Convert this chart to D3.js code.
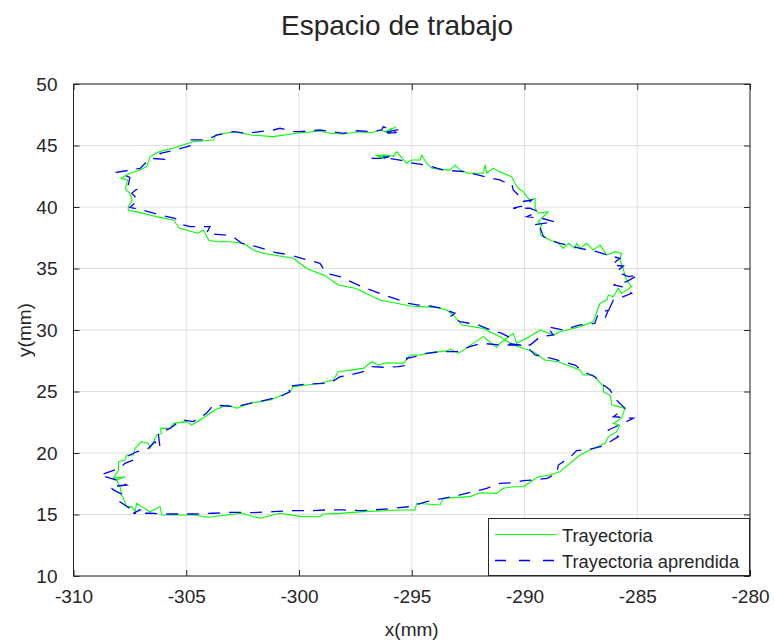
<!DOCTYPE html>
<html><head><meta charset="utf-8">
<script src="https://cdn.jsdelivr.net/npm/d3@7"></script>
<style>body{margin:0;background:#fff}svg{display:block}text{font-family:"Liberation Sans",Arial,Helvetica,sans-serif;fill:#262626}</style>
</head><body><svg id="c" width="774" height="644"></svg>
<script>
const xTicks = [-310,-305,-300,-295,-290,-285,-280];
const yTicks = [10,15,20,25,30,35,40,45,50];
const seriesNames = ["Trayectoria","Trayectoria aprendida"];
const trayectoria = [[-295.7,46.5],[-296.2,46.1],[-295.89,46.4],[-295.96,45.99],[-296.41,46.26],[-296.78,46.04],[-297.37,46.12],[-298.04,45.93],[-298.63,45.99],[-299.07,46.18],[-300.1,45.99],[-301.14,45.72],[-302.1,45.85],[-302.9,46.12],[-303.7,45.85],[-303.8,45.45],[-304.7,45.3],[-305.6,44.77],[-306.2,44.5],[-306.6,44.1],[-306.75,43.3],[-307.05,43.0],[-307.5,42.74],[-307.9,42.33],[-307.6,42.2],[-307.7,41.5],[-307.5,41.1],[-307.4,40.57],[-307.57,40.0],[-307.57,39.76],[-307.05,39.54],[-306.3,39.2],[-305.57,38.94],[-305.3,38.27],[-304.5,37.86],[-304.24,38.13],[-304.0,37.3],[-303.65,37.18],[-303.06,37.18],[-302.47,37.05],[-302.03,36.5],[-301.6,36.24],[-300.25,35.83],[-299.66,35.0],[-298.85,34.42],[-298.26,33.66],[-297.5,33.39],[-296.41,32.44],[-295.07,31.95],[-293.9,31.84],[-293.45,31.63],[-293.16,31.22],[-292.78,30.41],[-291.83,30.13],[-291.09,29.46],[-290.5,28.78],[-289.6,28.24],[-289.09,27.56],[-288.5,27.42],[-287.54,26.75],[-287.4,26.34],[-286.95,26.34],[-286.5,25.4],[-286.5,24.98],[-286.2,24.7],[-286.13,23.9],[-285.54,23.63],[-285.7,22.82],[-286.06,22.41],[-285.77,22.28],[-285.92,21.73],[-286.28,21.33],[-286.43,20.79],[-287.1,20.24],[-287.54,19.84],[-288.43,18.48],[-288.87,18.21],[-289.39,18.07],[-290.05,17.26],[-290.5,17.26],[-290.94,17.13],[-291.23,16.72],[-291.97,16.77],[-292.42,16.45],[-293.6,16.31],[-293.75,15.77],[-294.78,15.91],[-294.86,15.37],[-295.52,15.37],[-296.41,15.28],[-297.15,15.23],[-298.18,15.09],[-298.92,15.04],[-299.07,14.82],[-299.96,14.85],[-300.84,15.1],[-301.73,14.69],[-302.54,15.1],[-304.02,14.77],[-304.69,14.96],[-306.09,14.96],[-306.16,15.64],[-306.6,15.23],[-306.98,15.64],[-307.2,15.91],[-307.27,15.23],[-307.42,15.64],[-307.64,15.64],[-307.86,16.59],[-307.94,17.26],[-308.08,17.8],[-307.72,18.07],[-308.23,17.94],[-308.0,18.62],[-308.0,19.29],[-307.72,19.43],[-307.64,19.84],[-307.35,19.84],[-307.27,20.38],[-306.98,20.92],[-306.68,20.79],[-306.6,20.38],[-306.31,21.46],[-306.09,21.6],[-306.16,22.0],[-305.72,22.0],[-305.57,22.41],[-304.98,22.55],[-304.76,22.28],[-304.39,22.68],[-303.73,23.5],[-303.2,23.9],[-302.76,23.63],[-302.17,24.04],[-301.29,24.31],[-300.4,24.98],[-300.25,25.4],[-299.66,25.53],[-299.07,25.67],[-298.48,25.93],[-298.26,26.61],[-297.15,26.88],[-296.78,27.42],[-296.48,27.15],[-296.11,27.34],[-295.37,27.29],[-295.08,27.97],[-294.63,27.97],[-294.34,28.1],[-293.38,28.32],[-293.3,28.46],[-292.93,28.1],[-291.83,29.46],[-291.38,28.78],[-291.23,28.59],[-291.09,28.92],[-290.5,29.73],[-290.35,28.92],[-289.9,29.33],[-289.3,30.0],[-288.7,29.6],[-288.43,29.86],[-287.54,30.27],[-286.95,30.68],[-286.65,32.17],[-286.35,32.44],[-286.28,32.85],[-286.06,32.71],[-285.84,33.39],[-285.69,32.98],[-285.25,33.52],[-285.47,34.07],[-285.54,34.34],[-285.62,35.0],[-285.77,35.7],[-285.7,36.24],[-286.0,36.37],[-286.35,36.1],[-286.65,36.9],[-286.95,36.5],[-287.24,37.05],[-287.54,36.64],[-287.69,37.05],[-287.76,36.64],[-288.05,37.05],[-288.28,36.64],[-288.5,37.05],[-288.87,37.32],[-289.3,37.72],[-289.3,38.27],[-289.24,38.54],[-289.39,38.8],[-289.09,39.35],[-288.94,39.62],[-289.39,39.49],[-289.53,39.9],[-289.53,40.7],[-289.76,40.57],[-289.9,40.84],[-290.05,41.24],[-290.28,41.52],[-290.42,41.93],[-290.57,42.46],[-291.09,42.87],[-291.38,43.14],[-291.68,42.74],[-291.75,43.41],[-291.83,42.74],[-292.49,42.74],[-292.86,43.0],[-293.08,43.41],[-293.3,43.0],[-294.1,43.14],[-294.34,43.55],[-294.56,44.23],[-294.63,43.82],[-295.0,43.82],[-295.23,43.55],[-295.67,44.5],[-295.82,44.1],[-296.11,44.23],[-296.33,44.23],[-296.41,43.96],[-296.0,44.1],[-296.6,44.2],[-296.2,43.9]];
const aprendida = [[-295.6,46.3],[-296.3,46.0],[-295.67,46.04],[-296.26,46.53],[-296.33,46.26],[-296.78,46.12],[-297.44,46.2],[-298.04,45.99],[-299.07,46.26],[-299.96,46.12],[-300.25,46.12],[-300.84,46.4],[-301.14,46.26],[-301.73,46.12],[-302.32,45.99],[-302.91,46.12],[-303.65,45.85],[-304.1,45.45],[-304.83,45.45],[-304.69,45.04],[-305.5,44.63],[-306.16,44.36],[-305.87,43.87],[-306.6,43.96],[-307.05,43.14],[-308.08,42.82],[-307.5,42.41],[-307.57,41.79],[-307.2,41.44],[-307.42,41.11],[-307.13,40.57],[-307.5,39.97],[-306.98,39.76],[-306.16,39.35],[-305.5,39.08],[-305.13,38.54],[-304.83,38.4],[-303.95,38.4],[-304.1,37.86],[-302.98,37.67],[-302.54,37.05],[-301.88,36.77],[-300.99,36.28],[-300.4,36.1],[-299.88,35.83],[-299.07,35.42],[-298.78,34.6],[-298.18,34.33],[-297.29,33.58],[-296.3,32.9],[-295.15,32.17],[-294.7,32.03],[-294.19,31.95],[-293.67,31.76],[-293.08,31.36],[-293.3,31.08],[-292.86,30.68],[-292.42,30.54],[-292.05,30.41],[-291.68,30.13],[-291.01,29.73],[-290.72,29.46],[-290.79,28.92],[-290.2,28.78],[-289.83,28.51],[-289.53,27.97],[-288.8,27.7],[-287.76,27.15],[-287.4,26.61],[-286.88,26.2],[-286.5,25.53],[-286.2,25.12],[-286.0,24.44],[-285.54,23.63],[-286.06,22.95],[-285.17,22.82],[-285.69,22.36],[-286.28,21.87],[-285.84,21.33],[-286.5,20.57],[-287.1,20.3],[-287.69,20.19],[-287.98,19.65],[-288.5,19.02],[-288.57,18.35],[-289.0,17.94],[-289.61,17.8],[-290.05,17.75],[-290.5,17.59],[-291.09,17.53],[-291.68,17.13],[-291.97,16.99],[-292.86,16.59],[-293.6,16.31],[-294.34,16.04],[-295.08,15.64],[-295.82,15.5],[-296.7,15.37],[-297.29,15.31],[-298.04,15.37],[-298.78,15.37],[-299.51,15.31],[-300.25,15.31],[-301.14,15.23],[-302.03,15.15],[-302.91,15.18],[-303.8,15.1],[-304.69,15.04],[-305.72,15.04],[-306.6,15.1],[-307.35,15.1],[-307.05,15.37],[-307.5,15.5],[-307.94,16.04],[-307.79,16.59],[-308.23,17.0],[-308.38,17.26],[-307.64,17.4],[-308.08,17.8],[-308.82,18.21],[-307.94,18.76],[-307.72,19.16],[-307.35,19.43],[-307.64,19.7],[-307.2,20.1],[-306.68,20.38],[-306.39,20.92],[-306.16,20.38],[-306.24,21.6],[-305.72,22.0],[-305.42,22.41],[-305.13,22.68],[-304.69,22.55],[-304.1,23.23],[-303.8,23.9],[-303.2,23.82],[-302.76,23.77],[-302.32,23.98],[-301.58,24.25],[-300.84,24.58],[-300.4,24.98],[-300.55,25.4],[-299.66,25.61],[-298.63,25.67],[-298.18,26.2],[-297.74,26.34],[-297.15,26.61],[-296.78,27.02],[-296.26,26.97],[-295.6,27.02],[-295.15,27.15],[-295.23,27.7],[-294.86,27.83],[-294.34,28.1],[-293.75,28.24],[-293.0,28.24],[-292.42,28.65],[-291.9,28.92],[-291.09,28.78],[-290.5,28.78],[-289.75,28.78],[-289.3,29.46],[-288.72,29.6],[-289.0,30.27],[-288.28,30.0],[-287.54,30.41],[-286.88,30.54],[-286.73,31.36],[-286.28,31.63],[-286.43,30.95],[-286.06,32.44],[-285.62,32.71],[-285.25,32.98],[-285.69,33.52],[-286.06,33.66],[-285.47,33.93],[-284.95,34.47],[-285.4,34.34],[-285.92,34.74],[-285.62,35.2],[-286.13,35.28],[-285.77,35.83],[-286.35,36.1],[-286.8,36.37],[-287.54,36.64],[-288.43,37.05],[-288.87,37.32],[-289.16,37.59],[-289.3,38.27],[-289.61,38.54],[-288.65,38.8],[-289.24,39.08],[-289.9,39.21],[-289.39,39.62],[-289.76,39.9],[-290.5,39.9],[-289.9,40.16],[-289.68,40.57],[-290.13,40.43],[-290.2,40.84],[-290.5,41.38],[-290.57,41.93],[-290.94,42.06],[-291.09,42.2],[-291.75,42.46],[-292.64,42.87],[-293.6,43.0],[-294.34,43.41],[-295.08,43.6],[-295.52,43.82],[-296.04,43.96],[-296.78,43.96],[-296.0,44.1],[-296.5,43.8]];

const L=73.5, R=750, T=84, B=576;
const ink = "#262626";
const svg = d3.select("#c");
const x = d3.scaleLinear().domain([-310,-280]).range([L,R]);
const y = d3.scaleLinear().domain([10,50]).range([B,T]);

// grid
const g = svg.append("g");
g.selectAll(".gx").data(xTicks).enter().append("line")
 .attr("x1",d=>x(d)).attr("x2",d=>x(d)).attr("y1",T).attr("y2",B)
 .attr("stroke","#dfdfdf").attr("stroke-width",1);
g.selectAll(".gy").data(yTicks).enter().append("line")
 .attr("y1",d=>y(d)).attr("y2",d=>y(d)).attr("x1",L).attr("x2",R)
 .attr("stroke","#dfdfdf").attr("stroke-width",1);

// data
const line = d3.line().x(d=>x(d[0])).y(d=>y(d[1]));
svg.append("path").datum(trayectoria).attr("d",line).attr("fill","none")
 .attr("stroke","#00ff00").attr("stroke-width",1.1).attr("stroke-linejoin","round");
svg.append("path").datum(aprendida).attr("d",line).attr("fill","none")
 .attr("stroke","#0000ff").attr("stroke-width",1.3).attr("stroke-dasharray","12,9");

// axes
const fs = 19;
const fmt = d => String(d);
const ax = svg.append("g").attr("transform",`translate(0,${B})`)
 .call(d3.axisBottom(x).tickValues(xTicks).tickSizeInner(-6).tickSizeOuter(0).tickPadding(14).tickFormat(fmt));
const axT = svg.append("g").attr("transform",`translate(0,${T})`)
 .call(d3.axisTop(x).tickValues(xTicks).tickSizeInner(-6).tickSizeOuter(0).tickFormat(""));
const ay = svg.append("g").attr("transform",`translate(${L},0)`)
 .call(d3.axisLeft(y).tickValues(yTicks).tickSizeInner(-6).tickSizeOuter(0).tickPadding(16).tickFormat(fmt));
const ayR = svg.append("g").attr("transform",`translate(${R},0)`)
 .call(d3.axisRight(y).tickValues(yTicks).tickSizeInner(-6).tickSizeOuter(0).tickFormat(""));
[ax,axT,ay,ayR].forEach(a=>{
  a.selectAll(".domain").remove();
  a.selectAll(".tick line").attr("stroke",ink).attr("stroke-width",1);
  a.selectAll(".tick text").attr("fill",ink).style("font-size",fs+"px").attr("font-family",null);
});
ax.selectAll(".tick text").attr("dy","0.71em");
svg.append("rect").attr("x",L).attr("y",T).attr("width",R-L).attr("height",B-T)
 .attr("fill","none").attr("stroke",ink).attr("stroke-width",1);

// labels
svg.append("text").attr("x",397).attr("y",35).attr("text-anchor","middle")
 .style("font-size","28px").attr("fill","#000").text("Espacio de trabajo");
svg.append("text").attr("x",(L+R)/2).attr("y",636).attr("text-anchor","middle")
 .style("font-size",fs+"px").text("x(mm)");
svg.append("text").attr("transform",`translate(31,${(T+B)/2}) rotate(-90)`).attr("text-anchor","middle")
 .style("font-size",fs+"px").text("y(mm)");

// legend
const lg = svg.append("g");
lg.append("rect").attr("x",488.5).attr("y",518.5).attr("width",261).attr("height",57)
 .attr("fill","#fff").attr("stroke",ink).attr("stroke-width",1);
lg.append("line").attr("x1",495).attr("x2",556).attr("y1",534.5).attr("y2",534.5)
 .attr("stroke","#00ff00").attr("stroke-width",1.1);
lg.append("line").attr("x1",495).attr("x2",556).attr("y1",560.5).attr("y2",560.5)
 .attr("stroke","#0000ff").attr("stroke-width",1.3).attr("stroke-dasharray","11,13");
lg.selectAll(".lt").data(seriesNames).enter().append("text")
 .attr("x",562).attr("y",(d,i)=>541.5+i*26.5).style("font-size","18.3px").text(d=>d);
</script></body></html>
